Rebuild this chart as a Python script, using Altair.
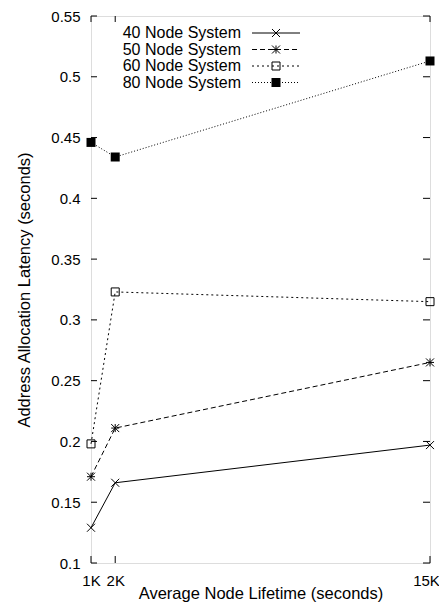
import altair as alt
import pandas as pd

# ---- data ----
lifetimes_k = [1, 2, 15]
series_names = ["40 Node System", "50 Node System", "60 Node System", "80 Node System"]
lat_40 = [0.129, 0.166, 0.197]
lat_50 = [0.171, 0.211, 0.265]
lat_60 = [0.198, 0.323, 0.315]
lat_80 = [0.446, 0.434, 0.513]
y_tick_values = [0.1, 0.15, 0.2, 0.25, 0.3, 0.35, 0.4, 0.45, 0.5, 0.55]
x_tick_values = [1, 2, 15]

W, H = 339, 547
FONT = "Liberation Sans"

X_PATH = "M-1,-1L1,1M-1,1L1,-1"
STAR_PATH = "M-1,-1L1,1M-1,1L1,-1M0,-1L0,1M-1,0L1,0"

styles = [
    dict(name=series_names[0], vals=lat_40, dash=None, shape=X_PATH, filled=False, size=64),
    dict(name=series_names[1], vals=lat_50, dash=[5, 3], shape=STAR_PATH, filled=False, size=64),
    dict(name=series_names[2], vals=lat_60, dash=[2, 3], shape="square", filled=False, size=64),
    dict(name=series_names[3], vals=lat_80, dash=[1, 2], shape="square", filled=True, size=81),
]

xs = alt.Scale(domain=[1, 15], nice=False, zero=False)
ys = alt.Scale(domain=[0.1, 0.55], nice=False, zero=False)

x_axis = alt.Axis(
    values=x_tick_values, labelExpr="datum.value + 'K'", title="Average Node Lifetime (seconds)",
    domain=False, ticks=False, tickSize=0, grid=False, labelPadding=10, titlePadding=-3,
    labelOffset={"condition": {"test": "datum.value == 15", "value": -4}, "value": 0},
    labelFont=FONT, labelFontSize=15, labelColor="black", labelFlush=False,
    titleFont=FONT, titleFontSize=16.5, titleFontWeight="normal", titleColor="black",
)
y_axis = alt.Axis(
    values=y_tick_values, format=".2~f", title="Address Allocation Latency (seconds)",
    domain=False, ticks=False, tickSize=0, grid=False, labelPadding=11, titlePadding=18,
    labelFont=FONT, labelFontSize=15, labelColor="black", labelFlush=False,
    titleFont=FONT, titleFontSize=16.5, titleFontWeight="normal", titleColor="black",
)

def xenc():
    return alt.X("k:Q", scale=xs, axis=x_axis)

def yenc():
    return alt.Y("lat:Q", scale=ys, axis=y_axis)

layers = []

# inward ticks on all four sides
ydf = pd.DataFrame({"lat": y_tick_values})
xdf = pd.DataFrame({"k": x_tick_values})
layers.append(alt.Chart(ydf).mark_rule(color="black", strokeWidth=1).encode(
    y=yenc(), x=alt.value(0), x2=alt.value(6)))
layers.append(alt.Chart(ydf).mark_rule(color="black", strokeWidth=1).encode(
    y=yenc(), x=alt.value(W - 7), x2=alt.value(W)))
layers.append(alt.Chart(xdf).mark_rule(color="black", strokeWidth=1).encode(
    x=xenc(), y=alt.value(H - 7), y2=alt.value(H)))
layers.append(alt.Chart(xdf).mark_rule(color="black", strokeWidth=1).encode(
    x=xenc(), y=alt.value(0), y2=alt.value(6)))

# series
for s in styles:
    df = pd.DataFrame({"k": lifetimes_k, "lat": s["vals"], "series": s["name"]})
    line_kw = dict(color="black", strokeWidth=1)
    if s["dash"]:
        line_kw["strokeDash"] = s["dash"]
    layers.append(alt.Chart(df).mark_line(**line_kw).encode(x=xenc(), y=yenc()))
    if s["filled"]:
        pt = alt.Chart(df).mark_point(shape=s["shape"], size=s["size"], filled=True,
                                      color="black", opacity=1)
    else:
        pt = alt.Chart(df).mark_point(shape=s["shape"], size=s["size"], filled=False,
                                      stroke="black", strokeWidth=1, opacity=1)
    layers.append(pt.encode(x=xenc(), y=yenc()))

# legend (inside, top-left)
row_y = [17, 33.5, 50, 66.5]
for s, ry in zip(styles, row_y):
    ldf = pd.DataFrame({"series": [s["name"]]})
    layers.append(alt.Chart(ldf).mark_text(align="right", baseline="middle", font=FONT,
                                           fontSize=16, color="black").encode(
        text="series:N", x=alt.value(150), y=alt.value(ry)))
    rk = dict(color="black", strokeWidth=1)
    if s["dash"]:
        rk["strokeDash"] = s["dash"]
    layers.append(alt.Chart(ldf).mark_rule(**rk).encode(
        x=alt.value(161), x2=alt.value(209), y=alt.value(ry)))
    if s["filled"]:
        lp = alt.Chart(ldf).mark_point(shape=s["shape"], size=s["size"], filled=True,
                                       color="black", opacity=1)
    else:
        lp = alt.Chart(ldf).mark_point(shape=s["shape"], size=s["size"], filled=False,
                                       stroke="black", strokeWidth=1, opacity=1)
    layers.append(lp.encode(x=alt.value(185), y=alt.value(ry)))

chart = alt.layer(*layers).properties(
    width=W, height=H,
    autosize=alt.AutoSizeParams(type="none"),
    padding={"left": 83, "top": 8, "right": 9, "bottom": 42},
).configure_view(stroke="black", strokeWidth=1.2).configure(background="white")

chart.save("out.html", embed_options={"renderer": "svg", "actions": False})
